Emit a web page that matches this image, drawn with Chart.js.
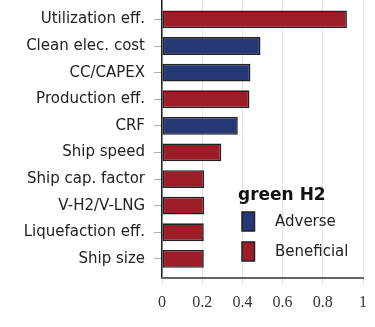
<!DOCTYPE html>
<html>
<head>
<meta charset="utf-8">
<script src="https://cdn.jsdelivr.net/npm/chart.js@4"></script>
<style>
  body { margin: 0; background: #fff; }
  canvas { display: block; }
</style>
</head>
<body>
<canvas id="sensChart" width="375" height="327"></canvas>
<script>
const categories = ['Utilization eff.', 'Clean elec. cost', 'CC/CAPEX', 'Production eff.', 'CRF',
    'Ship speed', 'Ship cap. factor', 'V-H2/V-LNG', 'Liquefaction eff.', 'Ship size'];
const effects = [0.92, 0.49, 0.44, 0.435, 0.377, 0.295, 0.21, 0.21, 0.208, 0.208];
const direction = ['Beneficial', 'Adverse', 'Adverse', 'Beneficial', 'Adverse',
    'Beneficial', 'Beneficial', 'Beneficial', 'Beneficial', 'Beneficial'];
const xTicks = [0, 0.2, 0.4, 0.6, 0.8, 1];
const legendTitle = 'green H2';

const colors = { Adverse: '#263775', Beneficial: '#9c1c28' };

function seriesPoints(kind) {
    const pts = [];
    categories.forEach((c, i) => {
        if (direction[i] === kind) pts.push({ x: effects[i], y: i });
    });
    return pts;
}

const legendPlugin = {
    id: 'insideLegend',
    afterDraw(chart) {
        const ctx = chart.ctx;
        ctx.save();
        ctx.fillStyle = '#111';
        ctx.font = 'bold 17px "DejaVu Sans"';
        ctx.textBaseline = 'alphabetic';
        ctx.fillText(legendTitle, 238, 200);
        chart.data.datasets.forEach((ds, i) => {
            const y = 212 + i * 30;
            ctx.fillStyle = ds.backgroundColor;
            ctx.fillRect(242, y, 12.5, 19);
            ctx.strokeStyle = '#222';
            ctx.lineWidth = 1.5;
            ctx.strokeRect(242, y, 12.5, 19);
            ctx.fillStyle = '#222';
            ctx.font = '15px "DejaVu Sans"';
            ctx.textBaseline = 'middle';
            ctx.fillText(ds.label, 275, y + 10);
        });
        ctx.restore();
    }
};

const sensCtx = document.getElementById('sensChart').getContext('2d');

const sensChart = new Chart(sensCtx, {
    type: 'bar',
    data: {
        datasets: ['Adverse', 'Beneficial'].map(kind => ({
            label: kind,
            data: seriesPoints(kind),
            backgroundColor: colors[kind],
            borderColor: '#222',
            borderWidth: 1.6,
            borderSkipped: false,
            grouped: false,
            categoryPercentage: 1,
            barPercentage: 0.67
        }))
    },
    options: {
        indexAxis: 'y',
        responsive: false,
        animation: false,
        layout: { padding: { top: 0, right: 11, left: 0, bottom: 0 } },
        plugins: {
            legend: { display: false },
            tooltip: { enabled: false }
        },
        scales: {
            y: {
                type: 'linear',
                reverse: true,
                offset: false,
                min: -0.73,
                max: 9.72,
                afterBuildTicks: s => { s.ticks = categories.map((c, i) => ({ value: i })); },
                afterFit: s => { s.width = 162; s.paddingTop = 0; s.paddingBottom = 0; },
                ticks: {
                    autoSkip: false,
                    padding: 9,
                    color: '#222',
                    font: { family: 'DejaVu Sans', size: 15 },
                    callback: v => categories[v]
                },
                grid: {
                    offset: false,
                    drawOnChartArea: false,
                    drawTicks: true,
                    tickLength: 8,
                    tickColor: '#b0b0b0'
                },
                border: { color: '#222', width: 1.5 }
            },
            x: {
                min: 0,
                max: 1,
                afterBuildTicks: s => { s.ticks = xTicks.map(v => ({ value: v })); },
                afterFit: s => { s.height = 49; },
                ticks: {
                    padding: 8,
                    color: '#333',
                    font: { family: 'Liberation Serif', size: 16 },
                    callback: v => String(+v.toFixed(1))
                },
                grid: {
                    color: '#e6e6e6',
                    tickColor: '#e6e6e6',
                    tickLength: 7
                },
                border: { color: '#666', width: 2 }
            }
        }
    },
    plugins: [legendPlugin]
});
</script>
</body>
</html>
